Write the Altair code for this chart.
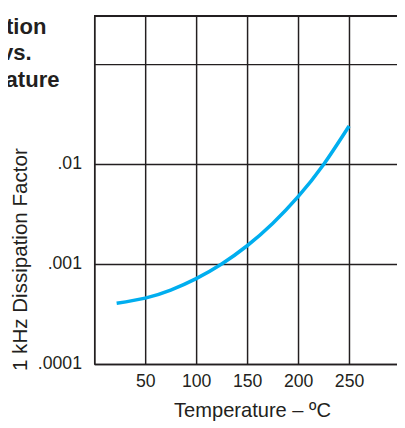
import altair as alt
import pandas as pd

temps = [22, 50, 75, 100, 125, 150, 175, 200, 225, 250]
dissipation = [0.000404, 0.000455, 0.000548, 0.000713, 0.0010, 0.00152, 0.00254, 0.0047, 0.00986, 0.0239]
x_ticks = [0, 50, 100, 150, 200, 250]
y_ticks = [0.0001, 0.001, 0.01, 0.1]
title_lines = ["Dissipation", "Factor vs.", "Temperature"]

W, H = 309, 355
INK = "#231f20"
FONT = "Liberation Sans"

df = pd.DataFrame({"t": temps, "d": dissipation})

x_enc = alt.X(
    "t:Q",
    scale=alt.Scale(domain=[0, 297], nice=False, zero=False),
    axis=alt.Axis(
        values=x_ticks,
        title="Temperature – ºC",
        grid=True,
        gridColor=INK,
        gridWidth=1.5,
        gridOpacity=1,
        domainColor=INK,
        domainWidth=1.5,
        ticks=False,
        labelPadding=9,
        labelFont=FONT,
        labelFontSize=18,
        labelColor=INK,
        labelExpr="datum.value == 0 ? '' : datum.label",
        titleFont=FONT,
        titleFontSize=20.5,
        titleFontWeight="normal",
        titleColor=INK,
        titleX=161,
        titleY=54,
        titleAlign="center",
        titleBaseline="alphabetic",
    ),
)

y_enc = alt.Y(
    "d:Q",
    scale=alt.Scale(type="log", domain=[0.0001, 0.3], nice=False),
    axis=alt.Axis(
        values=y_ticks,
        title="1 kHz Dissipation Factor",
        grid=True,
        gridColor=INK,
        gridWidth=1.5,
        gridOpacity=1,
        domainColor=INK,
        domainWidth=1.5,
        ticks=False,
        labelPadding=13,
        labelFont=FONT,
        labelFontSize=18,
        labelColor=INK,
        labelExpr="datum.value > 0.05 ? '' : substring(format(datum.value, '.4~f'), 1)",
        titleFont=FONT,
        titleFontSize=21,
        titleFontWeight="normal",
        titleColor=INK,
        titleAngle=-90,
        titleX=-69,
        titleY=248,
        titleAlign="center",
        titleBaseline="alphabetic",
    ),
)

curve = alt.Chart(df).mark_line(
    color="#00aeef", strokeWidth=3.6, interpolate="natural"
).encode(x=x_enc, y=y_enc)

top_rule = alt.Chart(df).mark_rule(color=INK, strokeWidth=1.5).encode(
    x=alt.value(0), x2=alt.value(W), y=alt.value(0)
)

title_df = pd.DataFrame({"k": [0]})
title_text = alt.Chart(title_df).mark_text(
    text=title_lines,
    align="left",
    baseline="alphabetic",
    font=FONT,
    fontSize=22.5,
    fontWeight="bold",
    color=INK,
    lineHeight=27,
).encode(x=alt.value(-170), y=alt.value(18))

chart = (
    alt.layer(top_rule, curve, title_text)
    .properties(
        width=W,
        height=H,
        autosize=alt.AutoSizeParams(type="none"),
        padding={"left": 88, "top": 4, "right": 0, "bottom": 59},
    )
    .configure_view(stroke=None)
    .configure(background="white")
)

chart.save("out.html", embed_options={"renderer": "svg", "actions": False})
